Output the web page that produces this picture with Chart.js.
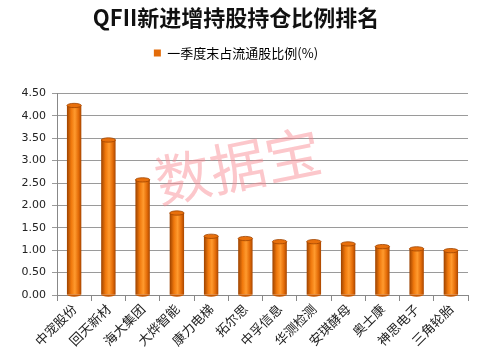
<!DOCTYPE html>
<html>
<head>
<meta charset="utf-8">
<script src="https://cdn.jsdelivr.net/npm/chart.js@4.4.1/dist/chart.umd.min.js"></script>
<style>
  html, body { margin: 0; padding: 0; background: #fff; }
  #wrap { width: 482px; height: 361px; }
</style>
</head>
<body>
<div id="wrap"><canvas id="qfiiChart"></canvas></div>
<script>
const stockNames = ['中宠股份', '回天新材', '海大集团', '大烨智能', '康力电梯', '拓尔思',
  '中孚信息', '华测检测', '安琪酵母', '奥士康', '神思电子', '三角轮胎'];
const holdingRatio = [4.23, 3.46, 2.57, 1.83, 1.31, 1.26, 1.19, 1.19, 1.14, 1.08, 1.03, 0.99];
const seriesLabel = '一季度末占流通股比例(%)';
const titleText = 'QFII新进增持股持仓比例排名';
const watermarkText = '数据宝';

const cjk = '"Noto Sans CJK SC", "Noto Sans", sans-serif';
const barPct = 0.42;

// horizontal gradient so each bar looks like a cylinder
function cylinderFill(context) {
  const chart = context.chart;
  const xScale = chart.scales.x;
  if (!xScale || context.dataIndex === undefined) return '#e8700f';
  const cx = xScale.getPixelForValue(context.dataIndex);
  const half = (xScale.width / stockNames.length) * barPct / 2;
  const g = chart.ctx.createLinearGradient(cx - half, 0, cx + half, 0);
  g.addColorStop(0, '#9c4200');
  g.addColorStop(0.3, '#f0780c');
  g.addColorStop(0.55, '#ff9a2e');
  g.addColorStop(0.8, '#e46c08');
  g.addColorStop(1, '#a84600');
  return g;
}

// extra room under the legend, like the original
const legendGap = {
  id: 'legendGap',
  beforeInit(chart) {
    const fit = chart.legend.fit;
    chart.legend.fit = function () {
      fit.bind(chart.legend)();
      this.height += 24;
    };
  }
};

// caps at top and bottom of bars, plus the watermark
const extras = {
  id: 'extras',
  afterDatasetsDraw(chart) {
    const ctx = chart.ctx;
    const meta = chart.getDatasetMeta(0);
    ctx.save();
    meta.data.forEach((bar) => {
      const half = bar.width / 2;
      const ry = Math.max(2, half * 0.3);
      ctx.beginPath();
      ctx.ellipse(bar.x, bar.base, half, ry, 0, 0, Math.PI);
      ctx.fillStyle = '#c85a02';
      ctx.fill();
      ctx.beginPath();
      ctx.ellipse(bar.x, bar.y, half, ry, 0, 0, Math.PI * 2);
      ctx.fillStyle = '#e8700c';
      ctx.fill();
      ctx.lineWidth = 0.8;
      ctx.strokeStyle = '#a04400';
      ctx.stroke();
    });
    ctx.restore();
  },
  afterDraw(chart) {
    const ctx = chart.ctx;
    const area = chart.chartArea;
    ctx.save();
    ctx.translate(area.left + (area.right - area.left) * 0.44, area.top + (area.bottom - area.top) * 0.36);
    ctx.rotate(-0.2);
    ctx.font = '56px ' + cjk;
    ctx.fillStyle = 'rgba(248, 130, 140, 0.45)';
    ctx.textAlign = 'center';
    ctx.textBaseline = 'middle';
    ctx.fillText(watermarkText, 0, 0);
    ctx.restore();
  }
};

const ctx = document.getElementById('qfiiChart').getContext('2d');

new Chart(ctx, {
  type: 'bar',
  data: {
    labels: stockNames,
    datasets: [{
      label: seriesLabel,
      data: holdingRatio,
      backgroundColor: cylinderFill,
      borderWidth: 0,
      barPercentage: barPct,
      categoryPercentage: 1
    }]
  },
  options: {
    responsive: true,
    maintainAspectRatio: false,
    animation: false,
    layout: { padding: { left: 4, right: 14, top: 4, bottom: 0 } },
    plugins: {
      title: {
        display: true,
        text: titleText,
        color: '#111',
        font: { family: cjk, size: 22, weight: 'bold' },
        padding: { top: 0, bottom: 2 }
      },
      legend: {
        position: 'top',
        labels: {
          color: '#222',
          font: { family: cjk, size: 13 },
          boxWidth: 7,
          boxHeight: 7,
          padding: 14,
          generateLabels: () => [{
            text: seriesLabel,
            fillStyle: '#e36c0a',
            strokeStyle: '#e36c0a',
            lineWidth: 0
          }]
        }
      },
      tooltip: { enabled: false }
    },
    scales: {
      x: {
        afterFit: (scale) => { scale.height = 66; },
        grid: {
          offset: true,
          drawOnChartArea: false,
          color: '#888',
          tickLength: 6
        },
        border: { color: '#888' },
        ticks: {
          color: '#222',
          font: { family: cjk, size: 13 },
          maxRotation: 45,
          minRotation: 45,
          padding: 0
        }
      },
      y: {
        min: 0,
        max: 4.5,
        afterFit: (scale) => { scale.width = 53; },
        ticks: {
          stepSize: 0.5,
          color: '#222',
          font: { family: '"DejaVu Sans", sans-serif', size: 11 },
          padding: 6,
          callback: (v) => Number(v).toFixed(2)
        },
        grid: { color: '#9a9a9a', lineWidth: 1, tickLength: 5 },
        border: { color: '#888' }
      }
    }
  },
  plugins: [legendGap, extras]
});
</script>
</body>
</html>
